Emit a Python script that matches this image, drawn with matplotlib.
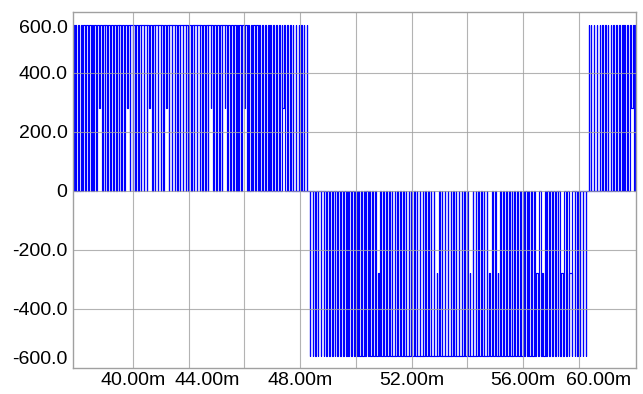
import matplotlib
matplotlib.use("Agg")
import matplotlib.pyplot as plt
import matplotlib.transforms as mtransforms
import numpy as np

# ---- data ----
amplitude = 560.0          # pulse height (V)
mid_level = 280.0          # occasional intermediate level
carrier_period = 0.1       # ms per switching slot
half_starts = [38.3, 48.3, 58.3]   # ms, start of each half cycle
half_signs = [1, -1, 1]
# duty ratio of the pulses over the first quarter of a half cycle (mirrored for the second quarter)
duty_quarter = [0.01, 0.04, 0.07, 0.10, 0.13, 0.16, 0.18, 0.21, 0.24, 0.27,
                0.29, 0.32, 0.34, 0.37, 0.40, 0.42, 0.45, 0.47, 0.49, 0.52,
                0.54, 0.56, 0.58, 0.61, 0.63, 0.65, 0.67, 0.68, 0.70, 0.72,
                0.74, 0.75, 0.77, 0.78, 0.80, 0.81, 0.82, 0.83, 0.84, 0.85,
                0.86, 0.87, 0.88, 0.88, 0.89, 0.89, 0.90, 0.90, 0.90, 0.90]
# times (ms) where the gap before a pulse stays at the intermediate level
mid_times = [40.85, 41.86, 42.68, 43.22, 44.87, 45.37, 46.05, 47.49,
             50.83, 52.91, 54.16, 54.88, 55.17, 56.53, 56.78, 57.46, 57.75, 59.90]

x_ticks = [40, 44, 48, 52, 56, 60]
x_tick_labels = ["40.00m", "44.00m", "48.00m", "52.00m", "56.00m", "60.00m"]
y_ticks = [-600, -400, -200, 0, 200, 400, 600]
y_tick_labels = ["-600.0", "-400.0", "-200.0", "0", "200.0", "400.0", "600.0"]

# ---- build the stepped waveform ----
duty_half = duty_quarter + duty_quarter[::-1]
t_pts, v_pts = [], []
for h0, sg in zip(half_starts, half_signs):
    n = len(duty_half)
    gaps = [0.0] * (n + 1)
    for mt in mid_times:
        k = int((mt - h0) // carrier_period)
        if 0 <= k < n:
            gaps[k] = mid_level
    t_pts.append(h0); v_pts.append(0.0)
    for k, d in enumerate(duty_half):
        c = h0 + (k + 0.5) * carrier_period
        w = d * carrier_period
        r, f = c - w / 2, c + w / 2
        g_before = gaps[k]
        g_after = gaps[k + 1] if k + 1 < n else 0.0
        t_pts += [r, r, f, f]
        v_pts += [sg * g_before, sg * amplitude, sg * amplitude, sg * g_after]
    t_pts.append(h0 + n * carrier_period); v_pts.append(0.0)

# ---- figure ----
plt.rcParams['font.family'] = ['Liberation Sans', 'DejaVu Sans']
fig = plt.figure(figsize=(6.43, 3.94), dpi=100)
ax = fig.add_axes([73/643, 1 - 368/394, (636-73)/643, (368-12)/394])

ax.plot(t_pts, v_pts, color='#0000ff', lw=0.85, zorder=2)

ax.set_xlim(39.85, 60.05)
ax.set_ylim(-600, 605)

ax.set_xticks(x_ticks)
ax.set_xticklabels(x_tick_labels)
ax.set_yticks(y_ticks)
ax.set_yticklabels(y_tick_labels)

ax.tick_params(axis='both', which='both', length=0, labelsize=14, colors='black')
ax.tick_params(axis='x', pad=3)
ax.tick_params(axis='y', pad=4)

ax.grid(False)
for xv in np.arange(42, 60, 2):
    ax.axvline(xv, color='#a0a0a0', lw=0.8, zorder=3, alpha=0.8)
for yv in [-400, -200, 0, 200, 400]:
    ax.axhline(yv, color='#a0a0a0', lw=0.8, zorder=3, alpha=0.8)

for sp in ax.spines.values():
    sp.set_color('#a0a0a0')
    sp.set_linewidth(1.0)

# shift edge labels inward like the reference (pixels; +x right, +y up)
x_shift = {"40.00m": 56, "44.00m": 19, "60.00m": -36}
for lab in ax.get_xticklabels():
    s = lab.get_text()
    if s in x_shift:
        lab.set_transform(lab.get_transform() + mtransforms.ScaledTranslation(x_shift[s] / 100, 0, fig.dpi_scale_trans))
y_shift = {"600.0": -13.5, "-600.0": 11}
for lab in ax.get_yticklabels():
    s = lab.get_text()
    if s in y_shift:
        lab.set_transform(lab.get_transform() + mtransforms.ScaledTranslation(0, y_shift[s] / 100, fig.dpi_scale_trans))

fig.savefig("out.png", dpi=100, facecolor='white')
